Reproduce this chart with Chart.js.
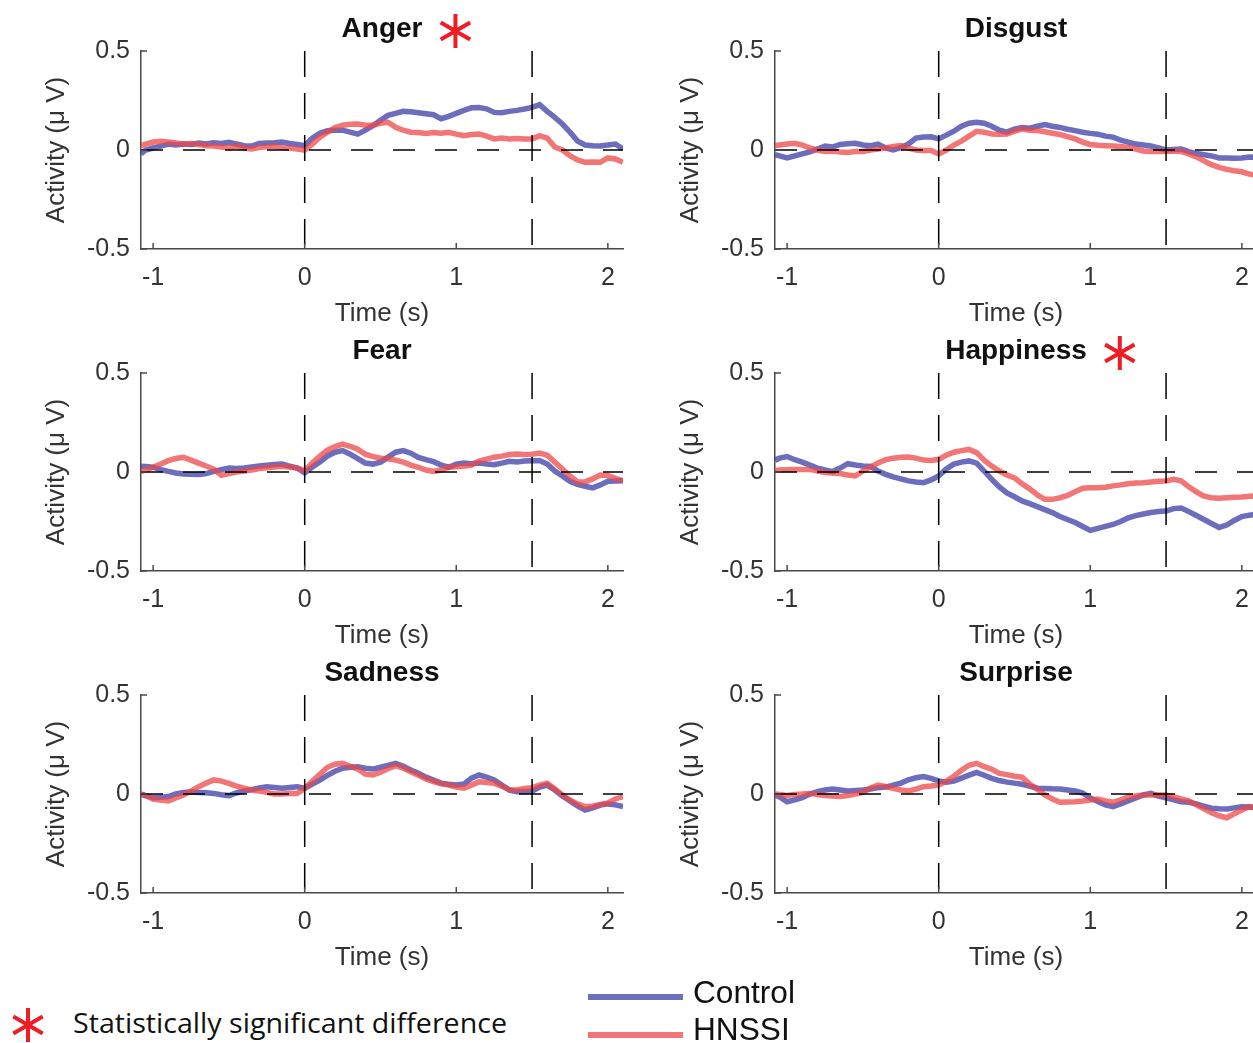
<!DOCTYPE html>
<html>
<head>
<meta charset="utf-8">
<title>Activity by emotion</title>
<script src="https://cdn.jsdelivr.net/npm/chart.js@4.4.1/dist/chart.umd.min.js"></script>
<style>
  html, body { margin: 0; padding: 0; background: #fff; }
  body { width: 1253px; height: 1043px; overflow: hidden; position: relative; font-family: "Liberation Sans", Arial, sans-serif; }
  .panel { position: absolute; width: 640px; height: 340px; }
  .panel canvas { display: block; }
  .leg { position: absolute; white-space: nowrap; transform-origin: 0 50%; color: #111; }
  .swatch { position: absolute; left: 588px; width: 95px; height: 6px; }
</style>
</head>
<body>
<div class="panel" style="left:0;top:0"><canvas id="anger" width="640" height="340"></canvas></div>
<div class="panel" style="left:634px;top:0"><canvas id="disgust" width="640" height="340"></canvas></div>
<div class="panel" style="left:0;top:322px"><canvas id="fear" width="640" height="340"></canvas></div>
<div class="panel" style="left:634px;top:322px"><canvas id="happiness" width="640" height="340"></canvas></div>
<div class="panel" style="left:0;top:644px"><canvas id="sadness" width="640" height="340"></canvas></div>
<div class="panel" style="left:634px;top:644px"><canvas id="surprise" width="640" height="340"></canvas></div>

<canvas id="star" width="40" height="40" style="position:absolute;left:8px;top:1005px"></canvas>
<div class="leg" id="sigText" style="left:73px;top:1005px;font-family:'Open Sans',sans-serif;font-size:27px;line-height:36px">Statistically significant difference</div>
<div class="swatch" style="top:994px;background:#6f6fbf"></div>
<div class="leg" id="ctrlText" style="left:693px;top:976px;font-size:31px;line-height:34px">Control</div>
<div class="swatch" style="top:1032px;background:#f27474"></div>
<div class="leg" id="hnText" style="left:693px;top:1013px;font-size:31px;line-height:34px">HNSSI</div>

<script>
// time axis (s), shared by all panels
const times = [-1.08, -1.05, -1.00, -0.95, -0.90, -0.85, -0.80, -0.75, -0.70,
  -0.65, -0.60, -0.55, -0.50, -0.45, -0.40, -0.35, -0.30, -0.25, -0.20, -0.15, -0.10, -0.05,
  0.00, 0.05, 0.10, 0.15, 0.20, 0.25, 0.30, 0.35, 0.40, 0.45, 0.50, 0.55, 0.60,
  0.65, 0.70, 0.75, 0.80, 0.85, 0.90, 0.95, 1.00, 1.05, 1.10, 1.15, 1.20, 1.25,
  1.30, 1.35, 1.40, 1.45, 1.50, 1.55, 1.60, 1.65, 1.70, 1.75, 1.80, 1.85, 1.90,
  1.95, 2.00, 2.05, 2.10];

const xTicks = [-1, 0, 1, 2];
const yTicks = [-0.5, 0, 0.5];
const markers = [0, 1.5]; // stimulus on / off

const angerControl = [-0.02, 0.0, 0.01, 0.02, 0.03, 0.025, 0.03, 0.028, 0.035,
  0.03, 0.037, 0.033, 0.039, 0.03, 0.022, 0.02, 0.033, 0.035, 0.037, 0.04, 0.033, 0.028,
  0.022, 0.06, 0.085, 0.097, 0.1, 0.1, 0.09, 0.08, 0.1, 0.123, 0.15, 0.175, 0.185,
  0.195, 0.193, 0.188, 0.183, 0.178, 0.158, 0.17, 0.185, 0.2, 0.213, 0.215, 0.208, 0.19,
  0.188, 0.195, 0.2, 0.207, 0.215, 0.229, 0.195, 0.165, 0.131, 0.09, 0.045, 0.025, 0.022,
  0.02, 0.025, 0.03, 0.005];
const angerHnssi = [0.022, 0.03, 0.04, 0.044, 0.04, 0.036, 0.03, 0.033, 0.028,
  0.022, 0.02, 0.015, 0.013, 0.02, 0.01, 0.005, 0.012, 0.017, 0.02, 0.012, 0.01, 0.005,
  0.0, 0.03, 0.065, 0.09, 0.114, 0.125, 0.13, 0.131, 0.125, 0.125, 0.135, 0.14, 0.115,
  0.1, 0.09, 0.088, 0.084, 0.088, 0.085, 0.089, 0.08, 0.072, 0.078, 0.081, 0.07, 0.056,
  0.06, 0.056, 0.058, 0.055, 0.056, 0.072, 0.06, 0.015, 0.0, -0.029, -0.05, -0.062, -0.06,
  -0.062, -0.04, -0.045, -0.062];

const disgustControl = [-0.024, -0.03, -0.04, -0.03, -0.02, -0.01, 0.005, 0.02, 0.015,
  0.028, 0.032, 0.034, 0.025, 0.022, 0.03, 0.01, 0.0, 0.012, 0.03, 0.06, 0.066, 0.067,
  0.056, 0.075, 0.095, 0.12, 0.135, 0.14, 0.135, 0.12, 0.1, 0.09, 0.105, 0.114, 0.11,
  0.12, 0.128, 0.12, 0.114, 0.105, 0.098, 0.09, 0.084, 0.08, 0.07, 0.065, 0.05, 0.04,
  0.03, 0.025, 0.02, 0.01, 0.0, 0.003, 0.005, -0.008, -0.018, -0.024, -0.03, -0.04, -0.04,
  -0.042, -0.04, -0.035, -0.037];
const disgustHnssi = [0.022, 0.025, 0.03, 0.034, 0.025, 0.01, 0.0, -0.007, -0.005,
  -0.01, -0.012, -0.008, -0.007, 0.0, 0.005, 0.01, 0.018, 0.022, 0.01, 0.0, -0.002, -0.003,
  -0.02, 0.0, 0.025, 0.045, 0.07, 0.094, 0.09, 0.081, 0.08, 0.081, 0.095, 0.106, 0.1,
  0.098, 0.092, 0.085, 0.078, 0.068, 0.056, 0.04, 0.028, 0.024, 0.022, 0.02, 0.018, 0.013,
  0.005, -0.005, -0.007, -0.006, -0.007, -0.005, -0.007, -0.02, -0.035, -0.055, -0.074, -0.088, -0.098,
  -0.105, -0.11, -0.122, -0.128];

const fearControl = [0.029, 0.028, 0.024, 0.012, 0.003, -0.005, -0.01, -0.012, -0.013,
  -0.008, 0.003, 0.012, 0.02, 0.018, 0.02, 0.025, 0.03, 0.034, 0.038, 0.04, 0.03, 0.02,
  -0.005, 0.025, 0.05, 0.08, 0.1, 0.108, 0.09, 0.068, 0.045, 0.04, 0.05, 0.075, 0.1,
  0.108, 0.095, 0.074, 0.062, 0.052, 0.035, 0.024, 0.04, 0.045, 0.042, 0.045, 0.04, 0.037,
  0.045, 0.054, 0.05, 0.055, 0.057, 0.058, 0.04, 0.005, -0.02, -0.047, -0.062, -0.072, -0.08,
  -0.065, -0.047, -0.045, -0.044];
const fearHnssi = [0.003, 0.01, 0.024, 0.04, 0.057, 0.068, 0.074, 0.06, 0.045,
  0.03, 0.015, -0.017, -0.008, 0.0, 0.005, 0.01, 0.018, 0.022, 0.025, 0.029, 0.025, 0.02,
  0.007, 0.045, 0.08, 0.11, 0.128, 0.141, 0.13, 0.115, 0.09, 0.078, 0.07, 0.067, 0.06,
  0.05, 0.035, 0.024, 0.01, 0.003, 0.01, 0.024, 0.026, 0.029, 0.035, 0.055, 0.065, 0.075,
  0.08, 0.088, 0.091, 0.088, 0.09, 0.096, 0.085, 0.05, 0.015, -0.02, -0.05, -0.05, -0.035,
  -0.015, -0.018, -0.032, -0.044];

const happinessControl = [0.06, 0.07, 0.078, 0.062, 0.05, 0.035, 0.02, 0.01, 0.002,
  0.02, 0.042, 0.035, 0.03, 0.028, 0.005, -0.012, -0.025, -0.035, -0.045, -0.05, -0.054, -0.04,
  -0.02, 0.015, 0.04, 0.05, 0.056, 0.045, 0.005, -0.037, -0.075, -0.106, -0.125, -0.146, -0.16,
  -0.175, -0.19, -0.205, -0.225, -0.24, -0.255, -0.275, -0.295, -0.285, -0.275, -0.265, -0.25, -0.232,
  -0.22, -0.212, -0.205, -0.2, -0.197, -0.185, -0.182, -0.2, -0.22, -0.24, -0.26, -0.28, -0.268,
  -0.245, -0.225, -0.218, -0.212];
const happinessHnssi = [0.008, 0.01, 0.012, 0.013, 0.012, 0.013, 0.005, -0.003, -0.005,
  -0.008, -0.015, -0.02, 0.005, 0.025, 0.045, 0.062, 0.07, 0.074, 0.076, 0.07, 0.06, 0.058,
  0.064, 0.085, 0.1, 0.108, 0.114, 0.098, 0.06, 0.03, 0.005, -0.015, -0.03, -0.06, -0.085,
  -0.115, -0.138, -0.138, -0.13, -0.118, -0.1, -0.082, -0.08, -0.079, -0.077, -0.07, -0.065, -0.059,
  -0.056, -0.054, -0.05, -0.047, -0.045, -0.037, -0.045, -0.075, -0.1, -0.122, -0.13, -0.133, -0.13,
  -0.128, -0.126, -0.122, -0.12];

const sadnessControl = [0.0, -0.008, -0.019, -0.016, -0.013, 0.0, 0.008, 0.01, 0.008,
  0.006, 0.003, -0.004, -0.008, 0.005, 0.015, 0.022, 0.03, 0.037, 0.033, 0.029, 0.033, 0.037,
  0.029, 0.05, 0.07, 0.094, 0.115, 0.13, 0.135, 0.138, 0.13, 0.126, 0.135, 0.145, 0.155,
  0.14, 0.121, 0.105, 0.085, 0.07, 0.055, 0.049, 0.045, 0.05, 0.08, 0.096, 0.085, 0.071,
  0.045, 0.02, 0.012, 0.013, 0.015, 0.035, 0.045, 0.02, -0.01, -0.035, -0.06, -0.081, -0.07,
  -0.056, -0.05, -0.055, -0.064];
const sadnessHnssi = [0.0, -0.008, -0.025, -0.03, -0.035, -0.02, -0.005, 0.015, 0.037,
  0.055, 0.071, 0.065, 0.054, 0.04, 0.029, 0.02, 0.015, 0.008, 0.0, 0.0, 0.002, 0.003,
  0.029, 0.065, 0.1, 0.135, 0.15, 0.155, 0.14, 0.126, 0.1, 0.096, 0.11, 0.128, 0.143,
  0.13, 0.113, 0.095, 0.076, 0.062, 0.052, 0.045, 0.035, 0.029, 0.045, 0.062, 0.058, 0.054,
  0.04, 0.022, 0.02, 0.028, 0.032, 0.045, 0.054, 0.025, -0.005, -0.03, -0.05, -0.064, -0.06,
  -0.053, -0.045, -0.025, -0.013];

const surpriseControl = [-0.005, -0.015, -0.039, -0.03, -0.018, 0.0, 0.012, 0.02, 0.025,
  0.02, 0.015, 0.018, 0.02, 0.025, 0.032, 0.035, 0.045, 0.055, 0.072, 0.082, 0.088, 0.079,
  0.066, 0.06, 0.065, 0.08, 0.095, 0.109, 0.095, 0.079, 0.068, 0.06, 0.055, 0.049, 0.04,
  0.029, 0.028, 0.026, 0.025, 0.02, 0.015, 0.005, -0.02, -0.038, -0.055, -0.064, -0.05, -0.035,
  -0.02, -0.005, 0.003, -0.01, -0.019, -0.03, -0.039, -0.042, -0.05, -0.062, -0.072, -0.075, -0.076,
  -0.07, -0.064, -0.066, -0.069];
const surpriseHnssi = [0.0, -0.003, -0.008, -0.002, 0.0, 0.003, -0.003, -0.008, -0.01,
  -0.013, -0.008, 0.0, 0.008, 0.03, 0.045, 0.038, 0.029, 0.02, 0.015, 0.025, 0.037, 0.04,
  0.045, 0.065, 0.09, 0.12, 0.145, 0.155, 0.138, 0.125, 0.104, 0.098, 0.09, 0.085, 0.05,
  0.025, -0.005, -0.025, -0.042, -0.04, -0.039, -0.035, -0.03, -0.025, -0.035, -0.042, -0.03, -0.015,
  -0.01, -0.005, -0.005, -0.005, -0.005, -0.015, -0.025, -0.035, -0.055, -0.075, -0.095, -0.11, -0.12,
  -0.1, -0.08, -0.064, -0.072];

const controlColor = "rgba(72, 72, 172, 0.8)";
const hnssiColor = "rgba(238, 72, 72, 0.75)";
const axisColor = "#4a4a4a";
const textColor = "#333";
const fontFamily = "'Liberation Sans', Arial, sans-serif";

Chart.defaults.font.family = fontFamily;
Chart.defaults.color = textColor;

// red six-armed asterisk used for "significant"
function drawStar(ctx, cx, cy, r, lw) {
  ctx.save();
  ctx.strokeStyle = "#ee1d24";
  ctx.lineWidth = lw;
  ctx.lineCap = "butt";
  ctx.beginPath();
  for (let k = 0; k < 3; k++) {
    const a = Math.PI / 2 + k * Math.PI / 3;
    ctx.moveTo(cx - r * Math.cos(a), cy - r * Math.sin(a));
    ctx.lineTo(cx + r * Math.cos(a), cy + r * Math.sin(a));
  }
  ctx.stroke();
  ctx.restore();
}

// inward tick marks + bold panel title (+ asterisk)
const panelDecor = {
  id: "panelDecor",
  afterDatasetsDraw(chart, args, opts) {
    const { ctx, chartArea, scales } = chart;
    const x = scales.x, y = scales.y;
    ctx.save();
    ctx.strokeStyle = axisColor;
    ctx.lineWidth = 1.5;
    ctx.beginPath();
    xTicks.forEach(v => {
      const px = x.getPixelForValue(v);
      ctx.moveTo(px, chartArea.bottom);
      ctx.lineTo(px, chartArea.bottom - 6);
    });
    yTicks.forEach(v => {
      const py = y.getPixelForValue(v);
      ctx.moveTo(chartArea.left, py);
      ctx.lineTo(chartArea.left + 6, py);
    });
    ctx.stroke();

    ctx.font = "bold 28px " + fontFamily;
    ctx.fillStyle = "#111";
    ctx.textAlign = "center";
    ctx.textBaseline = "middle";
    const cx = (chartArea.left + chartArea.right) / 2;
    ctx.fillText(opts.title, cx, 29);
    if (opts.sig) {
      const w = ctx.measureText(opts.title).width;
      drawStar(ctx, cx + w / 2 + 33, 31, 17, 4);
    }
    ctx.restore();
  }
};

function pts(vals) {
  return times.map((t, i) => ({ x: t, y: vals[i] }));
}

function makePanel(id, title, control, hnssi, sig) {
  const dashed = [];
  dashed.push({
    data: [{ x: -1.08, y: 0 }, { x: 2.1, y: 0 }],
    borderColor: "#000", borderWidth: 1.5, borderDash: [22, 20],
    pointRadius: 0, order: 0
  });
  markers.forEach(m => {
    dashed.push({
      data: [{ x: m, y: 0.5 }, { x: m, y: -0.5 }],
      borderColor: "#000", borderWidth: 1.5, borderDash: [26, 16],
      pointRadius: 0, order: 0
    });
  });

  new Chart(document.getElementById(id), {
    type: "line",
    data: {
      datasets: [
        { label: "Control", data: pts(control), borderColor: controlColor, borderWidth: 5.5,
          pointRadius: 0, tension: 0, order: 2 },
        { label: "HNSSI", data: pts(hnssi), borderColor: hnssiColor, borderWidth: 5.5,
          pointRadius: 0, tension: 0, order: 1 },
        ...dashed
      ]
    },
    options: {
      responsive: false,
      animation: false,
      events: [],
      layout: { padding: { top: 51, right: 17, bottom: 0, left: 0 } },
      plugins: {
        legend: { display: false },
        tooltip: { enabled: false },
        panelDecor: { title: title, sig: sig }
      },
      scales: {
        x: {
          type: "linear", min: -1.08, max: 2.1,
          afterBuildTicks: s => { s.ticks = xTicks.map(v => ({ value: v })); },
          afterFit: s => { s.height = 91; },
          grid: { display: false, drawTicks: false },
          border: { display: true, color: axisColor, width: 1.5 },
          ticks: { font: { size: 25 }, color: textColor, padding: 14, maxRotation: 0, autoSkip: false,
                   callback: v => String(v) },
          title: { display: true, text: "Time (s)", font: { size: 26 }, color: textColor,
                   padding: { top: 0, bottom: 11 } }
        },
        y: {
          type: "linear", min: -0.5, max: 0.5,
          afterBuildTicks: s => { s.ticks = yTicks.map(v => ({ value: v })); },
          afterFit: s => { s.width = 141; },
          grid: { display: false, drawTicks: false },
          border: { display: true, color: axisColor, width: 1.5 },
          ticks: { font: { size: 25 }, color: textColor, padding: 11,
                   callback: v => String(v) },
          title: { display: true, text: "Activity (\u03BC V)", font: { size: 26 }, color: textColor,
                   padding: { top: 41, bottom: 0 } }
        }
      }
    },
    plugins: [panelDecor]
  });
}

makePanel("anger", "Anger", angerControl, angerHnssi, true);
makePanel("disgust", "Disgust", disgustControl, disgustHnssi, false);
makePanel("fear", "Fear", fearControl, fearHnssi, false);
makePanel("happiness", "Happiness", happinessControl, happinessHnssi, true);
makePanel("sadness", "Sadness", sadnessControl, sadnessHnssi, false);
makePanel("surprise", "Surprise", surpriseControl, surpriseHnssi, false);

// legend glyph and text widths
drawStar(document.getElementById("star").getContext("2d"), 20, 20, 17, 4);

function fitWidth(id, target) {
  const el = document.getElementById(id);
  const w = el.getBoundingClientRect().width;
  const k = target / w;
  el.style.transform = "scaleX(" + k + ")";
  return k;
}
fitWidth("sigText", 434);
const k = fitWidth("ctrlText", 102);
document.getElementById("hnText").style.transform = "scaleX(" + k + ")";
</script>
</body>
</html>
